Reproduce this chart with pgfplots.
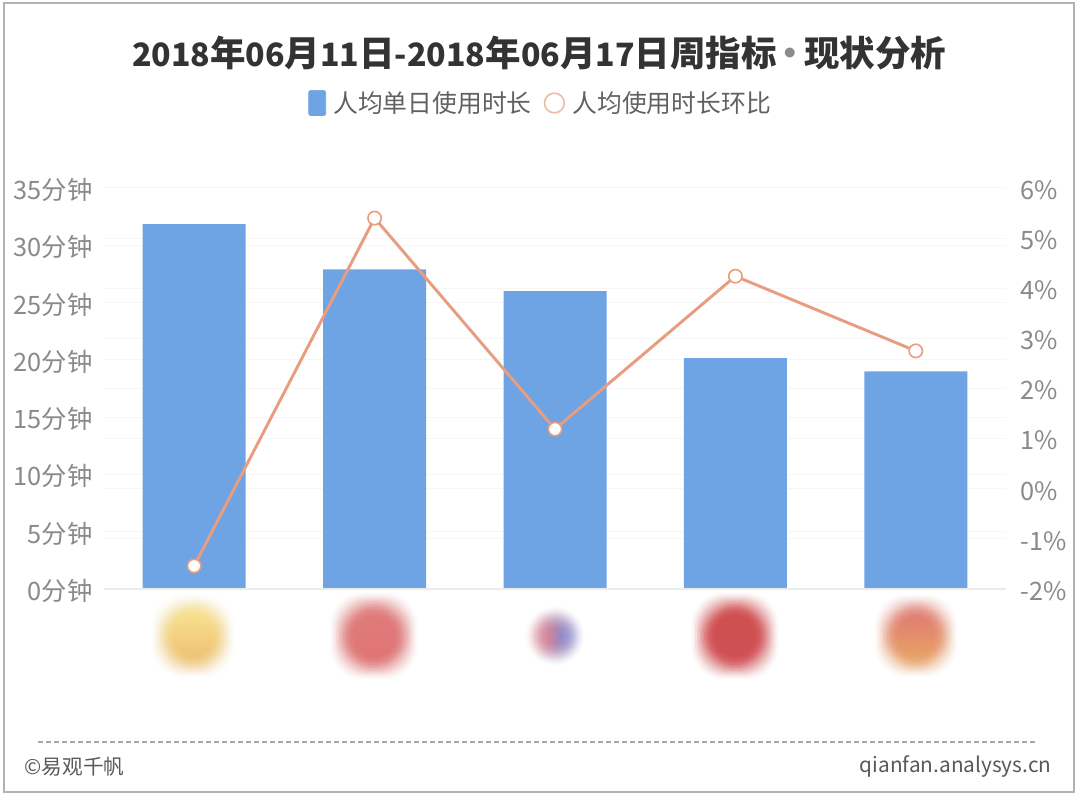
\documentclass[border=0pt]{standalone}
\usepackage{pgfplots}
\pgfplotsset{compat=1.18}
\usepackage{fontspec}
\setmainfont{Noto Sans CJK SC}
\definecolor{barblue}{HTML}{6FA4E4}
\definecolor{linecol}{HTML}{E89D80}
\definecolor{ticktxt}{HTML}{8A8A8A}
\definecolor{gridc}{HTML}{F6F6F6}
\definecolor{aT}{HTML}{F8E08A}
\definecolor{aB}{HTML}{EFC070}
\definecolor{bT}{HTML}{E07878}
\definecolor{bB}{HTML}{E07070}
\definecolor{cT}{HTML}{E08090}
\definecolor{cB}{HTML}{8088D0}
\definecolor{dT}{HTML}{D04A4A}
\definecolor{dB}{HTML}{D04A50}
\definecolor{eT}{HTML}{E07A70}
\definecolor{eB}{HTML}{E8A060}
\pgfplotstableread{
x dur ratio
0 31.85 -1.54
1 27.9 5.40
2 26.0 1.19
3 20.15 4.24
4 19.0 2.75
}\datatable
\pgfplotsset{
  common/.style={
    at={(78pt,156.75pt)}, anchor=south west,
    scale only axis, width=676.5pt, height=300.75pt,
    xmin=-0.5, xmax=4.5, xtick=\empty,
    axis x line*=bottom,
    x axis line style={draw=none},
    tick style={draw=none},
    tick label style={font=\fontsize{19}{21}\selectfont, text=ticktxt},
    /pgf/number format/assume math mode=true,
    clip=false,
  }
}
\newcommand{\dg}[1]{{\fontsize{24.1}{28}\selectfont #1}}
% a blurred square: a stack of translucent rounded squares, denser towards the middle
\newcommand{\blob}[6]{% cx cy outer-half topcolor bottomcolor angle
  \foreach \k in {0,1.5,...,24}{
    \pgfmathsetmacro{\op}{0.015+0.013*\k}
    \pgfmathsetmacro{\rc}{min(24,0.74*(#3-\k))}
    \shade[top color=#4, bottom color=#5, shading angle=#6, opacity=\op, rounded corners=\rc pt]
      ({#1-#3+\k},{#2-#3+\k}) rectangle ({#1+#3-\k},{#2+#3-\k});
  }
}
\begin{document}
\begin{tikzpicture}[x=0.75pt,y=0.75pt]
\path (0,0) rectangle (1080,798);
\fill[white] (0,0) rectangle (1080,798);
\draw[black!30, line width=1.1pt] (4,6) rectangle (1074,795);
% blurred icons
\blob{193}{162}{42}{aT}{aB}{0}
\blob{374}{162}{44}{bT}{bB}{0}
\blob{555}{162}{30}{cT}{cB}{90}
\blob{735}{162}{44}{dT}{dB}{0}
\blob{916}{162}{42}{eT}{eB}{0}
\begin{axis}[common,
  ymin=0, ymax=35, ytick={0,5,...,35},
  axis y line*=left, y axis line style={draw=none},
  yticklabel={\pgfmathprintnumber{\tick}分钟},
  yticklabel style={xshift=-5pt, yshift=-1.5pt},
  ymajorgrids,
  grid style={gridc, line width=0.75pt},
  extra y ticks={4.375,8.75,13.125,17.5,21.875,26.25,30.625},
  extra y tick style={grid=major, yticklabel={}},
  extra y tick labels={},
]
\addplot[ybar, bar width=77.25pt, fill=barblue, draw=none, forget plot] table[x=x,y=dur]{\datatable};
\draw[draw=black!8, line width=1.5pt] (axis cs:-0.5,0) -- (axis cs:4.5,0);
\end{axis}
\begin{axis}[common,
  ymin=-2, ymax=6, ytick={-2,-1,...,6},
  axis y line*=right, y axis line style={draw=none},
  yticklabel={\pgfmathprintnumber{\tick}\%},
  yticklabel style={xshift=7.5pt, yshift=-1.5pt},
  legend style={at={(0.4844,1.212)}, anchor=center, draw=none, fill=none, legend columns=2,
    font=\fontsize{18.6}{20}\selectfont\color{black!62},
    /tikz/every even column/.style={column sep=7pt}, inner sep=0pt},
]
\addlegendimage{legend image code/.code={\fill[barblue, rounded corners=1.5pt] (-0.225cm,-0.33cm) rectangle (0.225cm,0.33cm);}}
\addlegendentry{\hspace{3.5pt}人均单日使用时长}
\addlegendimage{legend image code/.code={\draw[linecol!70, line width=1.2pt, fill=white] (0.35cm,0) circle[radius=0.26cm];}}
\addlegendentry{\hspace{3.5pt}人均使用时长环比}
\addplot[linecol, line width=2.2pt, mark=*, mark size=5pt, mark options={fill=white, draw=linecol, line width=1.2pt}, forget plot] table[x=x,y=ratio]{\datatable};
\end{axis}
\node[font=\bfseries\fontsize{26.6}{28}\selectfont, text=black!80] at (539,745) {\dg{2018}年\dg{06}月\dg{11}日\dg{-2018}年\dg{06}月\dg{17}日周指标\hspace{-3pt}{\color{black!45}•}\hspace{-3pt}现状分析};
\draw[black!35, line width=0.8pt, dash pattern=on 4pt off 2pt] (38,56) -- (1037,56);
\node[anchor=west, font=\fontsize{15.5}{16}\selectfont, text=black!65] at (20,31) {©易观千帆};
\node[anchor=east, font=\fontsize{15.6}{16}\selectfont, text=black!65] at (1056,31) {qianfan.analysys.cn};
\end{tikzpicture}
\end{document}
